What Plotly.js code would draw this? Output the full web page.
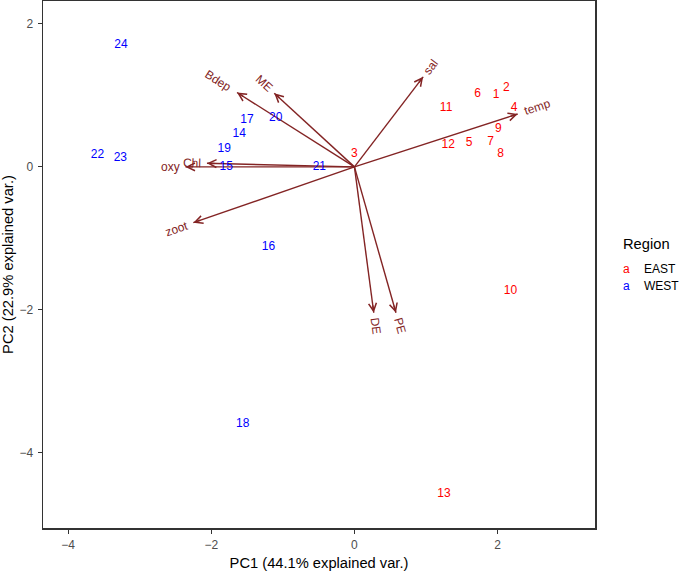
<!DOCTYPE html>
<html>
<head>
<meta charset="utf-8">
<script src="https://cdn.plot.ly/plotly-3.0.1.min.js"></script>
<style>html,body{margin:0;padding:0;background:#fff;}#chart{width:685px;height:572px;}</style>
</head>
<body>
<div id="chart"></div>
<script>
// Sample scores (PC1, PC2) and region
const sampleIds = ['1','2','3','4','5','6','7','8','9','10','11','12','13','14','15','16','17','18','19','20','21','22','23','24'];
const pc1 = [1.98, 2.12, 0.00, 2.23, 1.60, 1.72, 1.90, 2.04, 2.01, 2.18, 1.28, 1.31, 1.25, -1.61, -1.79, -1.20, -1.50, -1.56, -1.82, -1.10, -0.49, -3.59, -3.27, -3.26];
const pc2 = [1.00, 1.11, 0.18, 0.83, 0.34, 1.02, 0.35, 0.18, 0.53, -1.74, 0.82, 0.31, -4.57, 0.46, 0.00, -1.12, 0.66, -3.59, 0.25, 0.68, 0.00, 0.17, 0.12, 1.70];
const region = ['EAST','EAST','EAST','EAST','EAST','EAST','EAST','EAST','EAST','EAST','EAST','EAST','EAST','WEST','WEST','WEST','WEST','WEST','WEST','WEST','WEST','WEST','WEST','WEST'];

// Variable loadings (arrow tips)
const varNames = ['sal','temp','Bdep','ME','Chl','oxy','zoot','DE','PE'];
const varX = [0.96, 2.28, -1.64, -1.12, -2.06, -2.36, -2.25, 0.27, 0.58];
const varY = [1.26, 0.74, 1.04, 1.03, 0.05, 0.00, -0.78, -2.04, -2.04];

const regions = ['EAST','WEST'];
const regionColors = {EAST:'#FF0000', WEST:'#0000FF'};
const arrowColor = '#832424';
const FONT = '"Liberation Sans", Arial, Helvetica, sans-serif';

const traces = [];
// arrow shafts (drawn under the sample labels)
for (let i=0;i<varNames.length;i++){
  traces.push({
    type:'scatter', mode:'lines', x:[0, varX[i]], y:[0, varY[i]],
    line:{color:arrowColor, width:1.4}, showlegend:false, hoverinfo:'skip'
  });
}
regions.forEach(function(r){
  const xs=[], ys=[], ts=[];
  for (let i=0;i<sampleIds.length;i++){
    if (region[i]===r){ xs.push(pc1[i]); ys.push(pc2[i]); ts.push(sampleIds[i]); }
  }
  traces.push({
    type:'scatter', mode:'text', x:xs, y:ys, text:ts, name:r,
    textposition:'middle center',
    textfont:{family:FONT, size:12, color:regionColors[r]},
    showlegend:false, hoverinfo:'skip', cliponaxis:false
  });
});

// text width measurement for label offsets
const cv = document.createElement('canvas').getContext('2d');
cv.font = '12px "Liberation Sans", Arial, sans-serif';

const annotations = [];
for (let i=0;i<varNames.length;i++){
  const len = Math.hypot(varX[i], varY[i]);
  const ux = varX[i]/len, uy = varY[i]/len;
  // arrowhead (short arrow ending at the tip)
  annotations.push({
    x:varX[i], y:varY[i], xref:'x', yref:'y',
    ax:-ux*9, ay:uy*9, axref:'pixel', ayref:'pixel',
    text:'', showarrow:true, arrowhead:5, arrowsize:1.1, arrowwidth:1.4,
    arrowcolor:arrowColor, standoff:0
  });
  // label beyond the tip, rotated along the arrow
  const w = cv.measureText(varNames[i]).width;
  const d = 0.75*w + 1;
  const ang = Math.atan(varY[i]/varX[i])*180/Math.PI;
  annotations.push({
    x:varX[i], y:varY[i], xref:'x', yref:'y',
    xshift:d*ux, yshift:d*uy,
    text:varNames[i], showarrow:false, textangle:-ang,
    xanchor:'center', yanchor:'middle',
    font:{family:FONT, size:12, color:arrowColor}
  });
}

// legend (ggplot-style)
const legX = 1.0465;
annotations.push({xref:'paper', yref:'paper', x:legX, y:0.538, xanchor:'left', yanchor:'middle',
  text:'Region', showarrow:false, font:{family:FONT, size:14.7, color:'#000'}});
regions.forEach(function(r, k){
  const yy = 0.491 - k*0.031;
  annotations.push({xref:'paper', yref:'paper', x:1.0565, y:yy, xanchor:'center', yanchor:'middle',
    text:'a', showarrow:false, font:{family:FONT, size:12, color:regionColors[r]}});
  annotations.push({xref:'paper', yref:'paper', x:1.0845, y:yy, xanchor:'left', yanchor:'middle',
    text:r, showarrow:false, font:{family:FONT, size:12, color:'#000'}});
});

const axisCommon = {
  showgrid:false, zeroline:false, showline:true, mirror:true,
  linecolor:'#333333', linewidth:1.5,
  ticks:'outside', ticklen:4, tickwidth:1, tickcolor:'#333333',
  tickfont:{family:FONT, size:12, color:'#4D4D4D'}
};

const layout = {
  width:685, height:572,
  margin:{l:43, r:90, t:1, b:44, pad:0},
  paper_bgcolor:'#FFFFFF', plot_bgcolor:'#FFFFFF',
  showlegend:false,
  xaxis:Object.assign({}, axisCommon, {
    range:[-4.35, 3.36], tickvals:[-4,-2,0,2], ticklabelstandoff:1,
    title:{text:'PC1 (44.1% explained var.)', font:{family:FONT, size:14.7, color:'#000'}, standoff:7}
  }),
  yaxis:Object.assign({}, axisCommon, {
    range:[-5.05, 2.32], tickvals:[-4,-2,0,2], ticklabelstandoff:2,
    title:{text:'PC2 (22.9% explained var.)', font:{family:FONT, size:14.7, color:'#000'}, standoff:3}
  }),
  annotations:annotations
};

Plotly.newPlot('chart', traces, layout, {displayModeBar:false, staticPlot:true});
</script>
</body>
</html>
